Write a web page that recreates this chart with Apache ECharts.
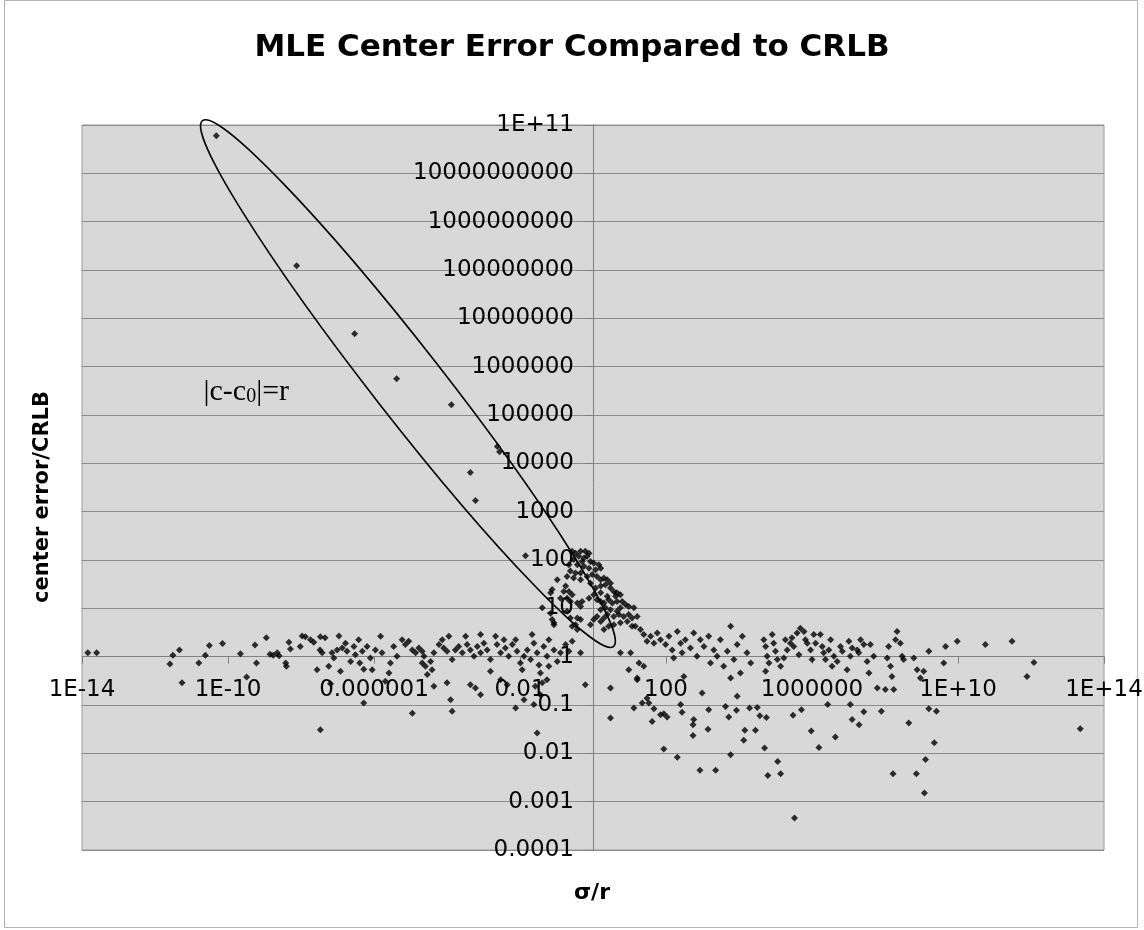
<!DOCTYPE html>
<html>
<head>
<meta charset="utf-8">
<title>MLE Center Error Compared to CRLB</title>
<script src="https://cdn.jsdelivr.net/npm/echarts@6/dist/echarts.min.js"></script>
<style>
  html, body { margin: 0; padding: 0; background: #fff; }
  #main { width: 1144px; height: 930px; }
</style>
</head>
<body>
<div id="main"></div>
<script>
// points, as [log10(σ/r), log10(center error/CRLB)]
var ellipsePts = [[-10.32,10.78],[-8.12,8.09],[-6.53,6.68],[-5.38,5.75],[-3.88,5.21],[-2.62,4.35],[-2.56,4.24],
  [-3.36,3.81],[-3.22,3.23],[-1.85,2.09]];

var clusterPts = [[-0.57,2.18],[-0.48,2.14],[-0.34,2.18],[-0.21,2.18],[-0.11,2.14],[-0.16,2.08],[-0.25,2.04],[-0.39,2.08],
  [-0.53,2.01],[-0.30,1.97],[-0.07,1.97],[0.02,1.94],[0.16,1.90],[0.21,1.83],[0.07,1.80],[-0.11,1.83],[-0.25,1.87],
  [-0.43,1.90],[-0.66,1.90],[-0.62,1.77],[-0.48,1.73],[-0.34,1.73],[-0.71,1.66],[-0.53,1.63],[-0.34,1.59],[-0.16,1.66],
  [-0.02,1.70],[0.11,1.66],[0.21,1.59],[0.30,1.63],[0.39,1.59],[0.48,1.52],[0.34,1.49],[0.21,1.46],[0.07,1.42],
  [-0.07,1.52],[0.48,1.42],[0.57,1.35],[0.66,1.32],[0.75,1.28],[0.62,1.25],[0.39,1.25],[0.21,1.32],[0.02,1.28],
  [-0.11,1.21],[0.11,1.18],[0.21,1.14],[0.30,1.11],[0.43,1.18],[0.53,1.11],[0.66,1.14],[0.80,1.14],[0.89,1.08],
  [0.98,1.04],[1.12,1.01],[0.75,1.01],[0.66,0.94],[0.48,0.97],[0.34,1.01],[0.21,0.97],[0.11,0.83],[0.30,0.80],
  [0.39,0.87],[0.57,0.83],[0.71,0.87],[0.84,0.83],[0.98,0.87],[1.07,0.80],[1.21,0.83],[0.94,0.73],[1.07,0.63],
  [0.75,0.70],[0.57,0.66],[0.43,0.63],[0.30,0.56],[0.21,0.73],[0.02,0.77],[-0.07,0.66],[-0.34,1.04],[-0.30,1.14],
  [-0.43,1.11],[-0.57,1.28],[-0.66,1.35],[-0.80,1.35],[-0.75,1.46],[-0.98,1.59],[-1.12,1.39],[-1.16,1.32],[-0.89,1.21],
  [-0.71,1.21],[-0.62,1.14],[-1.39,1.01],[-1.16,0.90],[-1.12,0.77],[-1.07,0.70],[-0.71,0.94],[-0.62,0.80],[-0.43,0.80],
  [-0.34,0.77],[-0.48,0.66],[-0.57,0.63],[-0.43,0.56]];

var bandLeftPts = [[-13.84,0.08],[-13.60,0.08],[-11.59,-0.15],[-11.51,0.03],[-11.33,0.14],[-11.26,-0.54],[-10.80,-0.13],
  [-10.62,0.03],[-10.51,0.23],[-10.15,0.27],[-9.66,0.06],[-9.49,-0.42],[-9.26,0.24],[-9.22,-0.13],[-8.95,0.39],
  [-8.85,0.05],[-8.76,0.03],[-8.65,0.08],[-8.60,0.02],[-8.42,-0.13],[-8.40,-0.20],[-8.33,0.30],[-8.29,0.16],[-8.02,0.21],
  [-7.97,0.43],[-7.88,0.41],[-7.74,0.35],[-7.65,0.30],[-7.56,-0.27],[-7.47,0.41],[-7.48,0.14],[-7.42,0.08],[-7.34,0.39],
  [-7.24,-0.20],[-7.19,-0.56],[-7.15,0.08],[-7.10,-0.03],[-7.01,0.14],[-6.96,0.43],[-6.92,-0.30],[-6.87,0.18],
  [-6.78,0.28],[-6.74,0.11],[-6.64,-0.10],[-6.55,0.21],[-6.51,0.04],[-6.42,0.35],[-6.39,-0.13],[-6.32,0.11],
  [-6.28,-0.26],[-6.28,-0.96],[-6.19,0.21],[-6.10,-0.03],[-6.05,-0.27],[-5.96,0.14],[-5.82,0.42],[-5.78,0.08],
  [-5.69,-0.51],[-5.59,-0.34],[-5.55,-0.13],[-5.46,0.21],[-5.37,0.01],[-7.47,-1.51]];

var bandMidPts = [[-5.23,0.35],[-5.14,0.25],[-5.05,0.32],[-4.95,0.14],[-4.86,0.08],[-4.77,0.18],[-4.68,0.11],[-4.63,0.01],
  [-4.68,-0.13],[-4.59,-0.20],[-4.45,-0.10],[-4.36,0.08],[-4.22,0.25],[-4.13,0.35],[-4.09,0.18],[-4.00,0.11],[-3.95,0.42],
  [-3.86,-0.06],[-3.77,0.14],[-3.68,0.21],[-3.58,0.08],[-3.49,0.42],[-3.45,0.25],[-3.36,0.14],[-3.26,0.01],[-3.17,0.21],
  [-3.08,0.46],[-3.08,0.08],[-2.99,0.28],[-2.90,0.14],[-2.81,-0.06],[-2.67,0.42],[-2.63,0.25],[-2.53,0.08],[-2.44,0.35],
  [-2.40,0.18],[-2.31,0.01],[-2.21,0.25],[-2.12,0.35],[-2.08,0.11],[-1.99,-0.13],[-1.94,-0.27],[-1.89,0.01],[-1.80,0.14],
  [-1.71,-0.06],[-1.67,0.46],[-1.62,0.28],[-1.53,0.08],[-1.48,-0.17],[-1.44,-0.34],[-1.35,0.21],[-1.26,0.01],[-1.21,0.35],
  [-1.07,0.14],[-0.98,-0.10],[-0.89,0.08],[-0.75,0.25],[-0.66,0.11],[-0.57,0.32],[-1.07,0.66],[-0.34,0.08],[-0.21,-0.58],
  [0.48,-0.65],[0.48,-1.27],[0.75,0.08],[1.03,0.08],[0.98,-0.27],[1.21,-0.48],[1.26,-0.13],[1.39,-0.20],[1.16,0.63],
  [1.30,0.56],[1.39,0.46],[1.48,0.32],[1.58,0.42],[1.67,0.28],[1.76,0.49],[1.85,0.35],[1.99,0.25],[2.08,0.42],[2.17,0.14],
  [2.21,-0.03],[2.31,0.52],[2.40,0.28],[2.44,0.08],[2.53,0.35],[2.67,0.18],[2.76,0.49],[2.85,0.01],[2.94,0.35],[3.04,0.21],
  [3.17,0.42],[3.22,-0.13],[3.31,0.14],[3.40,0.01],[3.49,0.35],[3.58,-0.20],[3.68,0.11],[3.77,0.63],[3.86,-0.06],
  [3.95,0.25],[4.04,-0.34],[4.09,0.42],[4.22,0.08],[4.32,-0.13],
  [-4.95,-1.17],[-4.54,-0.37],[-4.41,-0.27],[-4.36,-0.61],[-4.00,-0.54],[-3.90,-0.89],[-3.86,-1.13],[-3.36,-0.58],
  [-3.22,-0.65],[-3.08,-0.79],[-2.81,-0.30],[-2.53,-0.48],[-2.35,-0.58],[-2.12,-1.06],[-1.89,-0.89],[-1.62,-0.99],
  [-1.58,-0.61],[-1.53,-1.58],[-1.44,-0.79],[-1.39,-0.54],[-1.26,-0.48],[-1.21,-0.20],[1.21,-0.44],[2.49,-0.41],
  [2.99,-0.75],[3.77,-0.44],[3.95,-0.82],[1.48,-0.86]];

var bandRightPts = [[4.68,0.35],[4.73,0.21],[4.77,0.01],[4.82,-0.13],[4.73,-0.30],[4.91,0.46],[4.95,0.28],[5.00,0.11],
  [5.05,-0.06],[5.14,-0.20],[5.23,-0.03],[5.27,0.35],[5.32,0.14],[5.41,0.28],[5.45,0.39],[5.50,0.21],[5.59,0.49],
  [5.64,0.04],[5.68,0.59],[5.78,0.52],[5.82,0.35],[5.87,0.28],[5.96,0.14],[6.00,-0.06],[6.05,0.46],[6.10,0.28],
  [6.23,0.46],[6.28,0.21],[6.32,0.08],[6.37,-0.06],[6.46,0.14],[6.51,0.35],[6.55,-0.20],[6.60,0.01],[6.69,-0.10],
  [6.78,0.21],[6.83,0.11],[6.96,-0.27],[7.01,0.32],[7.05,0.01],[7.10,0.18],[7.24,0.14],[7.28,0.08],[7.33,0.35],
  [7.42,0.25],[7.51,-0.10],[7.56,-0.34],[7.60,0.25],[7.69,0.01],[7.79,-0.65],[8.01,-0.68],[8.06,-0.03],[8.10,0.21],
  [8.15,-0.20],[8.19,-0.41],[8.24,-0.68],[8.29,0.35],[8.33,0.52],[8.42,0.28],[8.47,0.01],[8.51,-0.06],[8.79,-0.03],
  [8.88,-0.27],[8.97,-0.44],[9.06,-0.30],[9.20,0.11],[9.61,-0.13],[9.66,0.21],[9.98,0.32],[10.75,0.25],[11.48,0.32],
  [11.89,-0.41],[12.08,-0.12]];

var lowerRightPts = [[1.12,-1.06],[1.35,-0.96],[1.53,-0.96],[1.67,-1.08],[1.62,-1.34],[1.85,-1.20],[1.94,-1.18],
  [2.03,-1.25],[1.94,-1.91],[2.31,-2.08],[2.40,-0.99],[2.44,-1.15],[2.76,-1.30],[2.74,-1.41],[2.74,-1.63],[2.93,-2.35],
  [3.15,-1.50],[3.17,-1.10],[3.36,-2.35],[3.63,-1.03],[3.72,-1.25],[3.77,-2.03],[3.93,-1.11],[4.13,-1.73],[4.16,-1.52],
  [4.29,-1.06],[4.45,-1.52],[4.50,-1.05],[4.57,-1.22],[4.70,-1.89],[4.75,-1.26],[4.79,-2.46],[5.06,-2.17],[5.14,-2.42],
  [5.48,-1.21],[5.52,-3.34],[5.71,-1.10],[5.98,-1.54],[6.19,-1.88],[6.43,-0.99],[6.64,-1.66],[7.05,-0.99],[7.10,-1.30],
  [7.29,-1.41],[7.42,-1.14],[7.90,-1.13],[8.22,-2.42],[8.65,-1.37],[8.86,-2.42],[9.08,-2.82],[9.11,-2.13],[9.20,-1.08],
  [9.35,-1.78],[9.41,-1.13],[13.35,-1.49]];

// annotation: ellipse tips and label anchor (log10 units)
var ellipseTips = [[-10.70, 11.09], [0.56, 0.21]];
var ellipseHalfWidth = 35;
var noteAnchor = [-10.67, 5.48];

var xMin = 1e-14, xMax = 1e14, yMin = 1e-4, yMax = 1e11;
var gridL = 82, gridR = 40, gridT = 125, gridB = 80;
var gridW = 1144 - gridL - gridR, gridH = 930 - gridT - gridB;
var font = 'DejaVu Sans, Verdana, sans-serif';

function toData(list) {
  return list.map(function (p) { return [Math.pow(10, p[0]), Math.pow(10, p[1])]; });
}
var points = [].concat(toData(ellipsePts), toData(clusterPts), toData(bandLeftPts),
  toData(bandMidPts), toData(bandRightPts), toData(lowerRightPts));

// Excel "General" style: plain number if it fits, otherwise 1E+nn
function excelLabel(maxLen) {
  return function (v) {
    var e = Math.round(Math.log10(v));
    var plain = e >= 0 ? '1' + '0'.repeat(e) : '0.' + '0'.repeat(-e - 1) + '1';
    if (plain.length <= maxLen) return plain;
    var a = Math.abs(e);
    return '1E' + (e < 0 ? '-' : '+') + (a < 10 ? '0' + a : a);
  };
}

// axes cross at 1
var lx = Math.log10;
var xOffset = -gridH * (0 - lx(yMin)) / (lx(yMax) - lx(yMin));
var yOffset = -gridW * (0 - lx(xMin)) / (lx(xMax) - lx(xMin));

var option = {
  animation: false,
  backgroundColor: '#fff',
  title: {
    text: 'MLE Center Error Compared to CRLB',
    left: 'center',
    top: 27,
    textStyle: { fontFamily: font, fontWeight: 'bold', fontSize: 31, color: '#000' }
  },
  grid: {
    left: gridL, right: gridR, top: gridT, bottom: gridB,
    show: true,
    backgroundColor: '#d8d8d8',
    borderColor: '#999',
    borderWidth: 1,
    outerBoundsMode: 'none'
  },
  xAxis: {
    type: 'log',
    logBase: 10,
    min: xMin,
    max: xMax,
    interval: 4,
    offset: xOffset,
    axisLine: { show: true, lineStyle: { color: '#808080', width: 1 } },
    axisTick: { show: true, length: 7, lineStyle: { color: '#808080' } },
    axisLabel: {
      formatter: excelLabel(8),
      fontFamily: font, fontSize: 23, color: '#000', margin: 22,
      showMinLabel: true, showMaxLabel: true
    },
    splitLine: { show: false },
    minorTick: { show: false }
  },
  yAxis: {
    type: 'log',
    logBase: 10,
    min: yMin,
    max: yMax,
    interval: 1,
    offset: yOffset,
    axisLine: { show: true, lineStyle: { color: '#808080', width: 1 } },
    axisTick: { show: true, length: 8, lineStyle: { color: '#808080' } },
    axisLabel: {
      formatter: excelLabel(11),
      fontFamily: font, fontSize: 23, color: '#000', margin: 19,
      showMinLabel: true, showMaxLabel: true
    },
    splitLine: { show: true, lineStyle: { color: '#8c8c8c', width: 1 } },
    minorTick: { show: false }
  },
  graphic: [
    {
      type: 'rect', id: 'frame', silent: true,
      shape: { x: 4.5, y: 0.5, width: 1133, height: 927 },
      style: { fill: 'none', stroke: '#b4b4b4', lineWidth: 1 }
    },
    {
      type: 'text', id: 'yname', x: 43, y: 497, rotation: Math.PI / 2,
      style: {
        text: 'center error/CRLB', font: 'bold 21px ' + font, fill: '#000',
        textAlign: 'center', textVerticalAlign: 'middle'
      }
    },
    {
      type: 'text', id: 'xname', x: 592, y: 893,
      style: {
        text: 'σ/r', font: 'bold 22px ' + font, fill: '#000',
        textAlign: 'center', textVerticalAlign: 'middle'
      }
    }
  ],
  series: [
    {
      type: 'scatter',
      data: points,
      symbol: 'diamond',
      symbolSize: 7,
      itemStyle: { color: '#000' },
      silent: true
    }
  ]
};

var chart = echarts.init(document.getElementById('main'));
chart.setOption(option);

// ellipse annotation placed through the axes
function px(p) {
  return chart.convertToPixel({ gridIndex: 0 }, [Math.pow(10, p[0]), Math.pow(10, p[1])]);
}
var a = px(ellipseTips[0]), b = px(ellipseTips[1]);
var cx = (a[0] + b[0]) / 2, cy = (a[1] + b[1]) / 2;
var half = Math.sqrt((b[0] - a[0]) * (b[0] - a[0]) + (b[1] - a[1]) * (b[1] - a[1])) / 2;
var ang = Math.atan2(b[1] - a[1], b[0] - a[0]);
var n = px(noteAnchor);

chart.setOption({
  graphic: [
    {
      type: 'ellipse', id: 'ring', silent: true, z: 100,
      x: cx, y: cy, rotation: -ang,
      shape: { cx: 0, cy: 0, rx: half, ry: ellipseHalfWidth },
      style: { fill: 'none', stroke: '#000', lineWidth: 1.6 }
    },
    {
      type: 'text', id: 'note', silent: true, z: 100,
      x: n[0], y: n[1],
      style: {
        text: '|c-c{s|0}|=r',
        font: '30px "Liberation Serif", "Times New Roman", serif',
        fill: '#000',
        textAlign: 'left',
        textVerticalAlign: 'middle',
        rich: {
          s: { fontFamily: '"Liberation Serif", serif', fontSize: 20, verticalAlign: 'bottom', padding: [10, 0, 0, 0], fill: '#000' }
        }
      }
    }
  ]
});

window.addEventListener('resize', chart.resize);
</script>
</body>
</html>
